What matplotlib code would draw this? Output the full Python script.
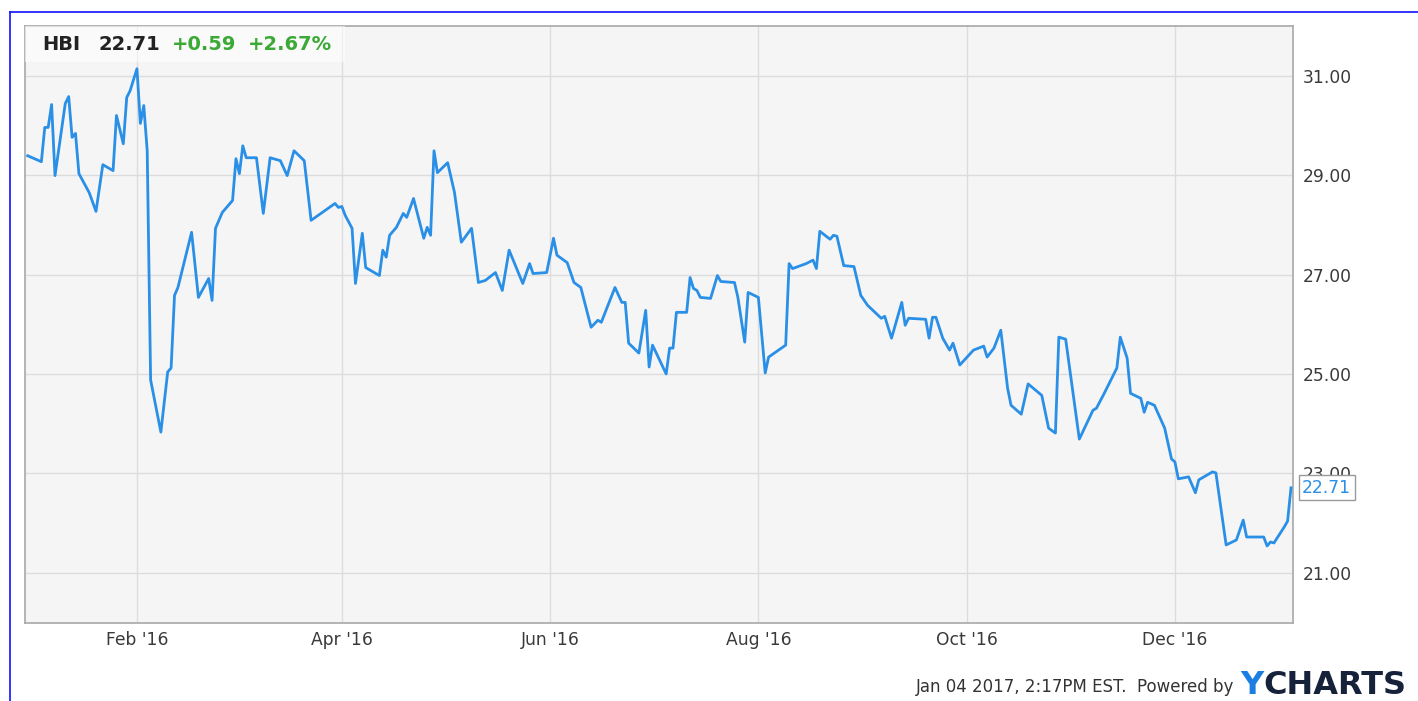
import matplotlib
matplotlib.use("Agg")
import matplotlib.pyplot as plt
import matplotlib.dates as mdates
import pandas as pd
from matplotlib.patches import Rectangle
from matplotlib.lines import Line2D

plt.rcParams['font.family'] = ['DejaVu Sans']

# HBI closing prices, Dec 2015 - Jan 2017
dates = [
    "2015-12-31", "2016-01-04", "2016-01-05", "2016-01-06", "2016-01-07", "2016-01-08",
    "2016-01-11", "2016-01-12", "2016-01-13", "2016-01-14", "2016-01-15", "2016-01-18",
    "2016-01-20", "2016-01-22", "2016-01-25", "2016-01-26", "2016-01-28", "2016-01-29",
    "2016-01-30", "2016-02-01", "2016-02-02", "2016-02-03", "2016-02-04", "2016-02-05",
    "2016-02-08", "2016-02-10", "2016-02-11", "2016-02-12", "2016-02-13", "2016-02-17",
    "2016-02-19", "2016-02-22", "2016-02-23", "2016-02-24", "2016-02-26", "2016-02-29",
    "2016-03-01", "2016-03-02", "2016-03-03", "2016-03-04", "2016-03-07", "2016-03-09",
    "2016-03-11", "2016-03-14", "2016-03-16", "2016-03-18", "2016-03-21", "2016-03-23",
    "2016-03-30", "2016-03-31", "2016-04-01", "2016-04-02", "2016-04-04", "2016-04-05",
    "2016-04-07", "2016-04-08", "2016-04-12", "2016-04-13", "2016-04-14", "2016-04-15",
    "2016-04-17", "2016-04-19", "2016-04-20", "2016-04-22", "2016-04-25", "2016-04-26",
    "2016-04-27", "2016-04-28", "2016-04-29", "2016-05-02", "2016-05-04", "2016-05-06",
    "2016-05-09", "2016-05-11", "2016-05-13", "2016-05-16", "2016-05-18", "2016-05-20",
    "2016-05-24", "2016-05-26", "2016-05-27", "2016-05-31", "2016-06-02", "2016-06-03",
    "2016-06-06", "2016-06-08", "2016-06-10", "2016-06-13", "2016-06-15", "2016-06-16",
    "2016-06-20", "2016-06-22", "2016-06-23", "2016-06-24", "2016-06-27", "2016-06-29",
    "2016-06-30", "2016-07-01", "2016-07-05", "2016-07-06", "2016-07-07", "2016-07-08",
    "2016-07-11", "2016-07-12", "2016-07-13", "2016-07-14", "2016-07-15", "2016-07-18",
    "2016-07-20", "2016-07-21", "2016-07-25", "2016-07-26", "2016-07-28", "2016-07-29",
    "2016-08-01", "2016-08-03", "2016-08-04", "2016-08-09", "2016-08-10", "2016-08-11",
    "2016-08-15", "2016-08-17", "2016-08-18", "2016-08-19", "2016-08-22", "2016-08-23",
    "2016-08-24", "2016-08-26", "2016-08-29", "2016-08-31", "2016-09-02", "2016-09-06",
    "2016-09-07", "2016-09-09", "2016-09-12", "2016-09-13", "2016-09-14", "2016-09-19",
    "2016-09-20", "2016-09-21", "2016-09-22", "2016-09-24", "2016-09-26", "2016-09-27",
    "2016-09-29", "2016-10-03", "2016-10-06", "2016-10-07", "2016-10-09", "2016-10-11",
    "2016-10-13", "2016-10-14", "2016-10-17", "2016-10-19", "2016-10-23", "2016-10-25",
    "2016-10-27", "2016-10-28", "2016-10-30", "2016-11-03", "2016-11-07", "2016-11-08",
    "2016-11-10", "2016-11-14", "2016-11-15", "2016-11-17", "2016-11-18", "2016-11-21",
    "2016-11-22", "2016-11-23", "2016-11-25", "2016-11-28", "2016-11-30", "2016-12-01",
    "2016-12-02", "2016-12-05", "2016-12-07", "2016-12-08", "2016-12-12", "2016-12-13",
    "2016-12-16", "2016-12-19", "2016-12-21", "2016-12-22", "2016-12-27", "2016-12-28",
    "2016-12-29", "2016-12-30", "2017-01-02", "2017-01-03", "2017-01-04",
]
prices = [
    29.39, 29.27, 29.96, 29.96, 30.42, 28.99,
    30.44, 30.58, 29.76, 29.84, 29.03, 28.65,
    28.27, 29.21, 29.09, 30.20, 29.63, 30.56,
    30.70, 31.14, 30.04, 30.40, 29.49, 24.88,
    23.83, 25.04, 25.12, 26.58, 26.74, 27.85,
    26.54, 26.92, 26.48, 27.93, 28.25, 28.49,
    29.33, 29.03, 29.59, 29.35, 29.35, 28.23,
    29.35, 29.29, 28.99, 29.49, 29.29, 28.09,
    28.43, 28.35, 28.37, 28.19, 27.93, 26.82,
    27.83, 27.14, 26.98, 27.49, 27.35, 27.79,
    27.95, 28.23, 28.15, 28.53, 27.73, 27.95,
    27.79, 29.49, 29.05, 29.25, 28.65, 27.65,
    27.93, 26.84, 26.88, 27.04, 26.68, 27.49,
    26.82, 27.22, 27.02, 27.04, 27.73, 27.39,
    27.24, 26.84, 26.74, 25.94, 26.08, 26.04,
    26.74, 26.44, 26.44, 25.62, 25.42, 26.28,
    25.14, 25.58, 25.00, 25.52, 25.52, 26.24,
    26.24, 26.94, 26.72, 26.68, 26.54, 26.52,
    26.98, 26.86, 26.84, 26.54, 25.64, 26.64,
    26.54, 25.02, 25.34, 25.58, 27.22, 27.12,
    27.22, 27.29, 27.12, 27.87, 27.71, 27.79,
    27.77, 27.18, 27.16, 26.58, 26.38, 26.12,
    26.16, 25.72, 26.44, 25.98, 26.12, 26.10,
    25.72, 26.14, 26.14, 25.72, 25.48, 25.62,
    25.18, 25.48, 25.56, 25.34, 25.52, 25.88,
    24.71, 24.37, 24.19, 24.80, 24.57, 23.91,
    23.81, 25.74, 25.70, 23.69, 24.27, 24.31,
    24.57, 25.12, 25.74, 25.32, 24.61, 24.51,
    24.23, 24.43, 24.37, 23.91, 23.29, 23.23,
    22.89, 22.93, 22.61, 22.87, 23.03, 23.01,
    21.56, 21.66, 22.06, 21.72, 21.72, 21.54,
    21.62, 21.60, 21.92, 22.04, 22.71,
]

ticker = "HBI"
last_price = 22.71
change = "+0.59"
change_pct = "+2.67%"
y_ticks = [21, 23, 25, 27, 29, 31]
x_ticks = ["2016-02-01", "2016-04-01", "2016-06-01", "2016-08-01", "2016-10-01", "2016-12-01"]
timestamp = "Jan 04 2017, 2:17PM EST."

line_color = "#2a8fe6"
green = "#3ba935"

x = pd.to_datetime(dates)

fig = plt.figure(figsize=(14.18, 7.01), dpi=100)
fig.patch.set_facecolor("white")
ax = fig.add_axes([25 / 1418, 1 - 622.5 / 701, (1293 - 25) / 1418, (622.5 - 26) / 701])
ax.set_facecolor("#f5f5f5")

ax.plot(x, prices, color=line_color, lw=2.0, solid_joinstyle="round", zorder=3)

ax.set_ylim(20.0, 32.0)
ax.set_xlim(pd.Timestamp("2015-12-30 05:00"), pd.Timestamp("2017-01-04 14:00"))

ax.set_yticks(y_ticks)
ax.set_yticklabels([f"{v:.2f}" for v in y_ticks])
ax.yaxis.tick_right()
ax.set_xticks(pd.to_datetime(x_ticks))
ax.xaxis.set_major_formatter(mdates.DateFormatter("%b '%y"))
ax.tick_params(axis="both", length=0, labelsize=12.3, labelcolor="#3a3a3a")
ax.tick_params(axis="y", pad=7)
ax.tick_params(axis="x", pad=6)
ax.grid(True, color="#dcdcdc", lw=1.0, zorder=0)
ax.set_axisbelow(True)
for s in ax.spines.values():
    s.set_color("#a8a8a8")
    s.set_linewidth(1.2)

# header panel with quote
ax.add_patch(Rectangle((0, 1 - 36 / 596.5), 320 / 1268, 36 / 596.5, transform=ax.transAxes,
                       facecolor="white", alpha=0.55, edgecolor="none", zorder=4))
hdr_y = 1 - 19 / 596.5
t1 = ax.text(17 / 1268, hdr_y, ticker, transform=ax.transAxes, fontsize=14, fontweight="bold",
             color="#222222", va="center", ha="left", zorder=5)
fig.canvas.draw()
r = fig.canvas.get_renderer()


def place_after(prev, txt, color, gap_px):
    bb = prev.get_window_extent(r)
    inv = ax.transAxes.inverted()
    xa = inv.transform((bb.x1 + gap_px, 0))[0]
    t = ax.text(xa, hdr_y, txt, transform=ax.transAxes, fontsize=14, fontweight="bold",
                color=color, va="center", ha="left", zorder=5)
    return t


t2 = place_after(t1, f"{last_price:.2f}", "#222222", 18)
t3 = place_after(t2, change, green, 12)
t4 = place_after(t3, change_pct, green, 12)

# last-price flag on the right axis
ax.annotate(f"{last_price:.2f}", xy=(x[-1], last_price), xycoords="data",
            xytext=(8, 0), textcoords="offset points", ha="left", va="center",
            fontsize=12.3, color=line_color,
            bbox=dict(boxstyle="square,pad=0.2", fc="white", ec="#9a9a9a", lw=1.0),
            annotation_clip=False, zorder=6)

# outer blue frame lines
fig.add_artist(Line2D([10 / 1418, 1], [1 - 12 / 701, 1 - 12 / 701], color="#1010ff", lw=1.2))
fig.add_artist(Line2D([10 / 1418, 10 / 1418], [0, 1 - 12 / 701], color="#1010ff", lw=1.2))

# footer
fy = 1 - 687 / 701
fig.text(1234 / 1418, fy, timestamp + "  Powered by", ha="right", va="center",
         fontsize=12, color="#333333")
ty = fig.text(1240 / 1418, fy + 0.002, "Y", ha="left", va="center", fontsize=23,
              fontweight="bold", color="#1a7fe0")
fig.canvas.draw()
bb = ty.get_window_extent(r)
fig.text(bb.x1 / 1418, fy + 0.002, "CHARTS", ha="left", va="center", fontsize=23,
         fontweight="bold", color="#16213a")

fig.savefig("out.png", dpi=100)
